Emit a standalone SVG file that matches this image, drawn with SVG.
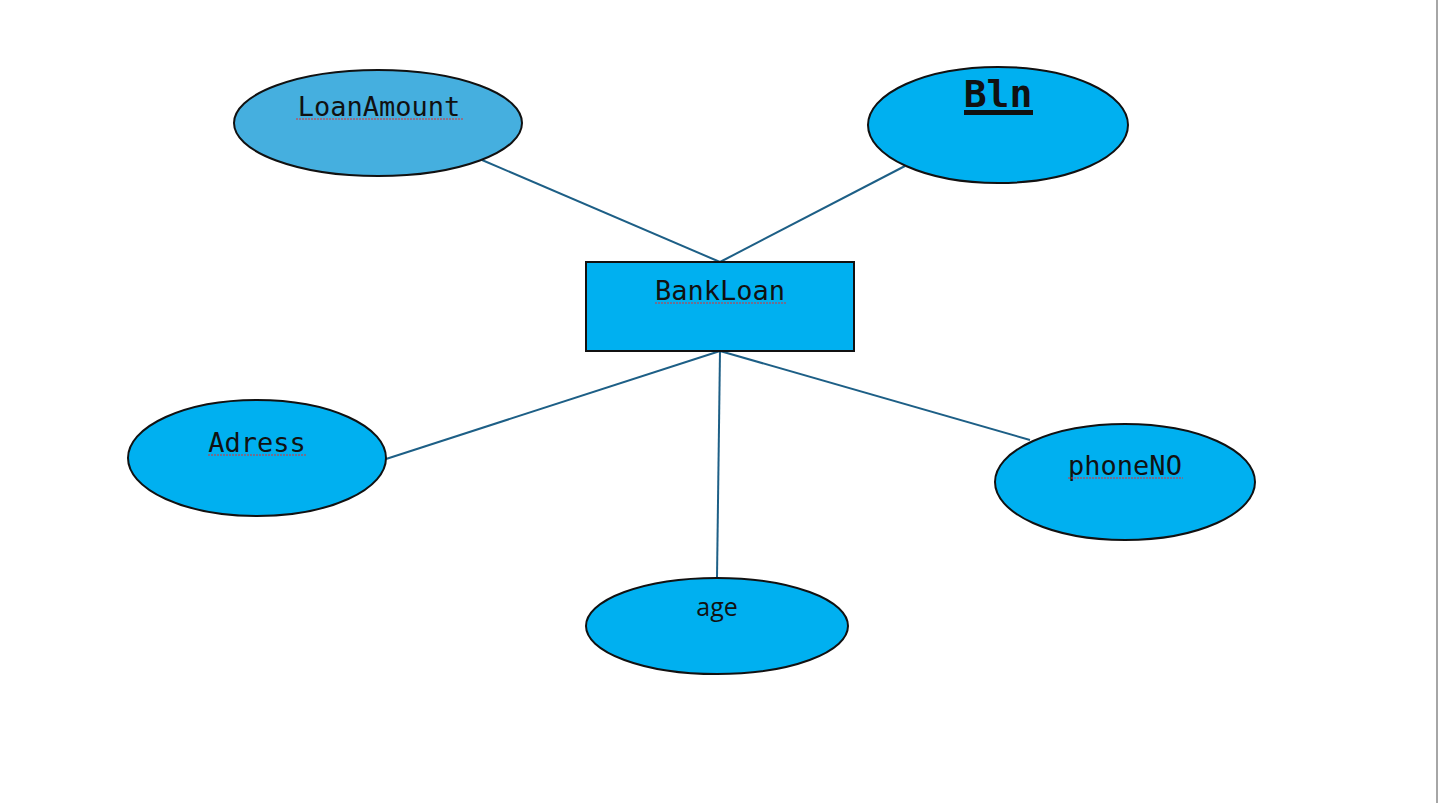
<svg xmlns="http://www.w3.org/2000/svg" width="1438" height="803" viewBox="0 0 1438 803">
<style>
.conn{stroke:#1d5f86;stroke-width:2;fill:none}
.attr{fill:#00b0f0;stroke:#111;stroke-width:2}
.mono{font-family:"DejaVu Sans Mono","Liberation Mono",monospace;font-size:27px;fill:#111;text-anchor:middle}
.sans{font-family:"Open Sans","Noto Sans",sans-serif;font-size:25px;fill:#111;text-anchor:middle}
.sq{stroke:#e03030;stroke-width:1;fill:none;stroke-dasharray:2 1}
</style>
<rect width="1438" height="803" fill="#ffffff"/>
<line x1="1437" y1="0" x2="1437" y2="803" stroke="#888" stroke-width="1.5"/>
<g id="connectors">
<line class="conn" x1="482" y1="160" x2="720" y2="262"/>
<line class="conn" x1="905" y1="166" x2="720" y2="262"/>
<line class="conn" x1="720" y1="351" x2="386" y2="459"/>
<line class="conn" x1="720" y1="351" x2="717" y2="578"/>
<line class="conn" x1="720" y1="351" x2="1030" y2="440"/>
</g>
<g id="LoanAmount">
<ellipse cx="378" cy="123" rx="144" ry="53" fill="#45afdf" stroke="#111" stroke-width="2"/>
<text class="mono" x="379" y="116">LoanAmount</text>
<line class="sq" x1="296" y1="119" x2="463" y2="119"/>
</g>
<g id="Bln">
<ellipse class="attr" cx="998" cy="125" rx="130" ry="58"/>
<text class="mono" x="998" y="107" style="font-size:38px;font-weight:bold">Bln</text>
<rect x="964" y="110" width="69" height="5" fill="#111"/>
</g>
<g id="BankLoan">
<rect x="586" y="262" width="268" height="89" fill="#00b0f0" stroke="#111" stroke-width="2"/>
<text class="mono" x="720" y="300">BankLoan</text>
<line class="sq" x1="655" y1="303" x2="786" y2="303"/>
</g>
<g id="Adress">
<ellipse class="attr" cx="257" cy="458" rx="129" ry="58"/>
<text class="mono" x="257" y="452">Adress</text>
<line class="sq" x1="208" y1="455" x2="307" y2="455"/>
</g>
<g id="phoneNO">
<ellipse class="attr" cx="1125" cy="482" rx="130" ry="58"/>
<text class="mono" x="1125" y="475">phoneNO</text>
<line class="sq" x1="1068" y1="478" x2="1183" y2="478"/>
</g>
<g id="age">
<ellipse class="attr" cx="717" cy="626" rx="131" ry="48"/>
<text class="sans" x="717" y="616">age</text>
</g>
</svg>
